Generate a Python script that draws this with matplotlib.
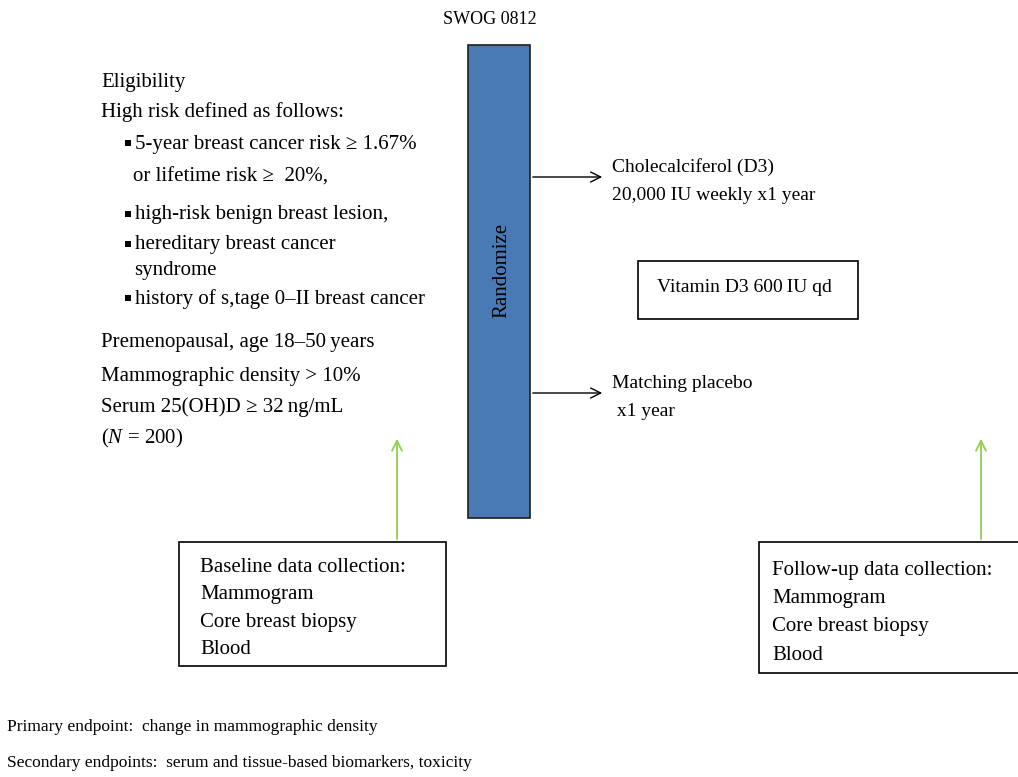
import matplotlib.pyplot as plt
from matplotlib.patches import Rectangle

plt.rcParams['font.family'] = ['Liberation Serif', 'DejaVu Serif']
plt.rcParams['mathtext.fontset'] = 'custom'
plt.rcParams['mathtext.rm'] = 'Liberation Serif'
plt.rcParams['mathtext.it'] = 'Liberation Serif:italic'

title = "SWOG 0812"
eligibility_lines = [
    ("Eligibility", 101, 82),
    ("High risk defined as follows:", 101, 112),
    ("5-year breast cancer risk \u2265 1.67%", 135, 144),
    ("or lifetime risk \u2265  20%,", 133, 177),
    ("high-risk benign breast lesion,", 135, 215),
    ("hereditary breast cancer", 135, 245),
    ("syndrome", 134, 270),
    ("history of s,tage 0\u2013II breast cancer", 135, 299),
    ("Premenopausal, age 18\u201350\u2009years", 101, 343),
    ("Mammographic density > 10%", 101, 376),
    ("Serum 25(OH)D \u2265 32\u2009ng/mL", 101, 407),
    ("($N$ = 200)", 101, 438),
]
bullet_rows = [144, 215, 245, 299]
arms = [("Cholecalciferol (D3)", "20,000 IU weekly x1 year", 177),
        ("Matching placebo", " x1 year", 393)]
baseline_lines = ["Baseline data collection:", "Mammogram", "Core breast biopsy", "Blood"]
followup_lines = ["Follow-up data collection:", "Mammogram", "Core breast biopsy", "Blood"]
endpoints = ["Primary endpoint:  change in mammographic density",
             "Secondary endpoints:  serum and tissue-based biomarkers, toxicity"]

fig = plt.figure(figsize=(10.18, 7.77), dpi=100)
ax = fig.add_axes([0, 0, 1, 1])
ax.set_xlim(0, 1018)
ax.set_ylim(777, 0)
ax.axis('off')

fs = 14
ax.text(490, 20, title, fontsize=13, ha='center', va='center')

for txt, x, y in eligibility_lines:
    ax.text(x, y, txt, fontsize=15, va='center')
for y in bullet_rows:
    ax.add_patch(Rectangle((125, y - 4), 6, 6, color='black', lw=0))

# randomize bar
ax.add_patch(Rectangle((468, 45), 62, 473, facecolor='#4a7ab4', edgecolor='#1f1f1f', lw=1.2))
ax.text(502, 270, "Randomize", fontsize=15, rotation=90, ha='center', va='center')

for top, bottom, y in arms:
    ax.annotate("", xy=(605, y), xytext=(530, y),
                arrowprops=dict(arrowstyle='->', color='black', lw=1, mutation_scale=18))
    ax.text(612, y - 10, top, fontsize=fs, va='center')
    ax.text(612, y + 18, bottom, fontsize=fs, va='center')

ax.add_patch(Rectangle((638, 261), 220, 58, facecolor='white', edgecolor='black', lw=1.2))
ax.text(657, 288, "Vitamin D3 600\u2009IU qd", fontsize=fs, va='center')

# data collection boxes
ax.add_patch(Rectangle((179, 542), 267, 124, facecolor='white', edgecolor='black', lw=1.2))
for i, txt in enumerate(baseline_lines):
    ax.text(200, 568 + i * 27, txt, fontsize=15, va='center')
ax.add_patch(Rectangle((759, 542), 270, 131, facecolor='white', edgecolor='black', lw=1.2))
for i, txt in enumerate(followup_lines):
    ax.text(772, 570 + i * 28.5, txt, fontsize=15, va='center')

for x in [397, 981]:
    ax.annotate("", xy=(x, 436), xytext=(x, 542),
                arrowprops=dict(arrowstyle='->', color='#92d050', lw=1.3, mutation_scale=18))

for i, txt in enumerate(endpoints):
    ax.text(7, 727 + i * 36, txt, fontsize=12.5, va='center')

fig.savefig("out.png", dpi=100)
